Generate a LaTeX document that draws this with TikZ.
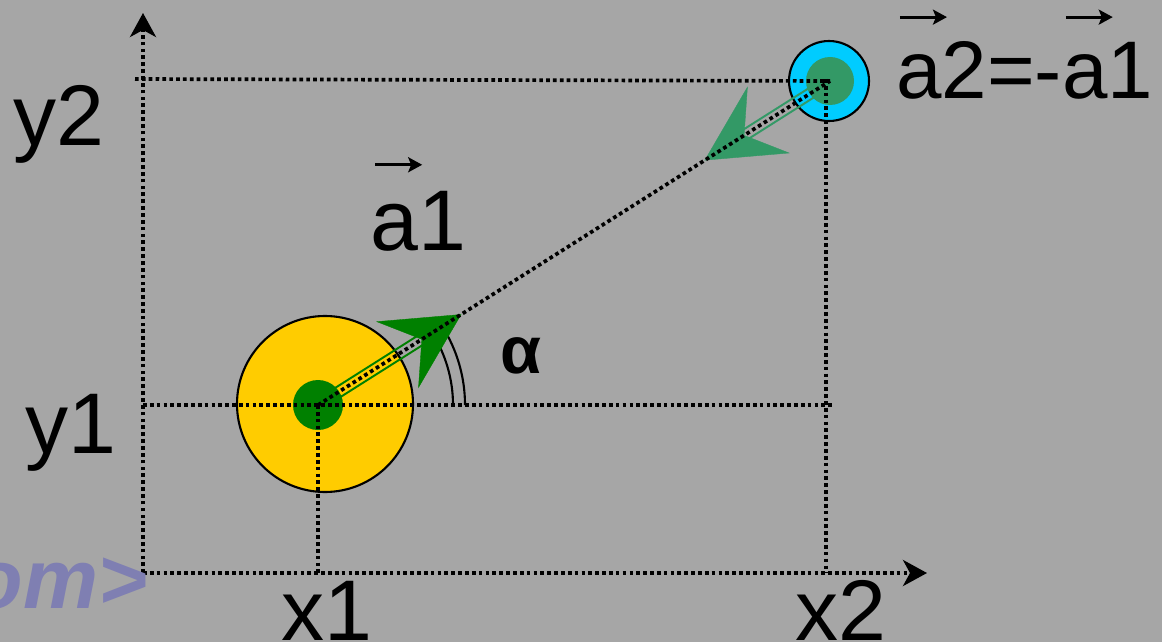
\documentclass[tikz,border=0pt]{standalone}
\usepackage{fontspec}
\setmainfont{Liberation Sans}
\usepackage{xcolor}
\usetikzlibrary{arrows.meta,calc}
\definecolor{bggrey}{HTML}{A6A6A6}
\definecolor{sunyellow}{HTML}{FFCC00}
\definecolor{skycyan}{HTML}{00CCFF}
\definecolor{darkgreen}{HTML}{008000}
\definecolor{seagreen}{HTML}{339966}
\definecolor{lavender}{HTML}{7F7FB2}
% letter with an arrow above it
\newcommand{\ovec}[1]{\setbox0\hbox{#1}\hbox{\rlap{\makebox[\wd0]{\raisebox{0.99em}[0pt][0pt]{\makebox[0pt]{\hspace{5pt}\tikz[baseline=0pt]\draw[line width=1.7pt,-{Stealth[length=0.28cm,width=0.3cm,inset=0.06cm]}] (0,0) -- (0.94cm,0);}}}}\box0}}

\begin{document}
\begin{tikzpicture}[x=0.02cm,y=-0.02cm,
  every node/.style={inner sep=0pt,font=\fontsize{49}{58}\selectfont},
  guide/.style={line width=2.1pt,dash pattern=on 2.1pt off 1.8pt},
  axis/.style={guide,-{Stealth[length=0.48cm,width=0.52cm,inset=0.14cm]}},
  rim/.style={draw=black,line width=1.2pt},
  vechead/.style={-{Stealth[length=1.52cm,width=1.58cm,inset=0.58cm]},line width=0.2pt}]
  % grey sheet
  \fill[bggrey] (0,0) rectangle (1162,642);
  \useasboundingbox (0,0) rectangle (1162,642);
  % the two bodies
  \coordinate (A) at (318,405);
  \coordinate (B) at (830,81);
  \path[fill=sunyellow,rim] (325,404) circle[radius=88];
  \path[fill=skycyan,rim] (829,81) circle[radius=40];
  \fill[darkgreen] (A) circle[radius=25];
  \fill[seagreen] (B) circle[radius=24];
  % angle alpha
  \draw[line width=1.2pt] ($(A)+(135,0)$) arc[start angle=0,end angle=-32,radius=135];
  \draw[line width=1.2pt] ($(A)+(147,0)$) arc[start angle=0,end angle=-32,radius=147];
  % vectors a1 and a2
  \coordinate (T1) at ($(A)!0.28!(B)$);
  \coordinate (T2) at ($(B)!0.245!(A)$);
  \coordinate (E1) at ($(A)!0.75!(T1)$);
  \coordinate (E2) at ($(B)!0.72!(T2)$);
  \draw[darkgreen,line width=1.1pt] ($(A)!3pt!90:(T1)$) -- ($(E1)!3pt!-90:(A)$);
  \draw[darkgreen,line width=1.1pt] ($(A)!3pt!-90:(T1)$) -- ($(E1)!3pt!90:(A)$);
  \draw[darkgreen,vechead] ($(A)!0.9!(T1)$) -- (T1);
  \draw[seagreen,line width=1.1pt] ($(B)!3pt!90:(T2)$) -- ($(E2)!3pt!-90:(B)$);
  \draw[seagreen,line width=1.1pt] ($(B)!3pt!-90:(T2)$) -- ($(E2)!3pt!90:(B)$);
  \draw[seagreen,vechead] ($(B)!0.9!(T2)$) -- (T2);
  % dotted guides
  \draw[guide] (135,79) -- (B);
  \draw[guide] (826,79) -- (826,573);
  \draw[guide] (143,405) -- (835,405);
  \draw[guide] (A) -- (A |- 0,573);
  \draw[guide] (A) -- (B);
  % axes
  \draw[axis] (143,573) -- (143,13);
  \draw[axis] (143,573) -- (927,573);
  % labels
  \node[anchor=base west] (y2) at (13,145) {y2};
  \node[anchor=base west] (y1) at (25,453) {y1};
  \node[anchor=base west] (x1) at (281,640) {x1};
  \node[anchor=base west] (x2) at (795,640) {x2};
  \node[anchor=base west] (a1) at (370,250) {\ovec{a}1};
  \node[anchor=base west,font=\fontsize{46.5}{56}\selectfont] (a2) at (896,98) {\ovec{a}2=-\ovec{a}1};
  \node[anchor=base west,font=\fontsize{38}{44}\selectfont\bfseries] (alpha) at (500,373) {α};
  \node[anchor=base east,text=lavender,font=\fontsize{48}{56}\selectfont\bfseries\itshape] (mark) at (148,608) {om>};
\end{tikzpicture}
\end{document}
